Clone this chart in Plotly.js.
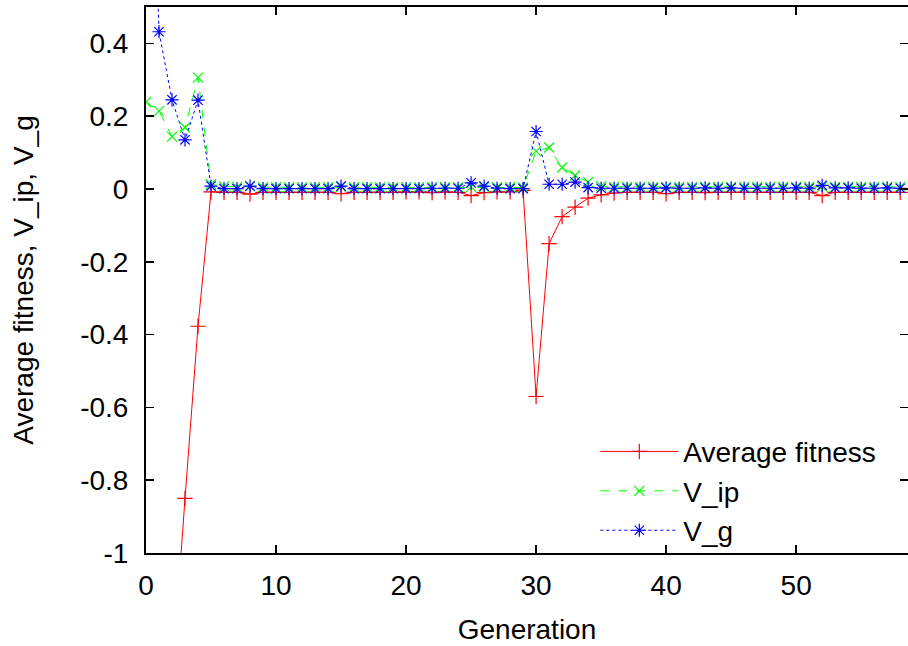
<!DOCTYPE html>
<html>
<head>
<meta charset="utf-8">
<script src="https://cdn.plot.ly/plotly-3.0.1.min.js"></script>
<style>html,body{margin:0;padding:0;background:#fff;}#chart{width:908px;height:646px;}</style>
</head>
<body>
<div id="chart"></div>
<script>
const generations = [0,1,2,3,4,5,6,7,8,9,10,11,12,13,14,15,16,17,18,19,20,21,22,23,24,25,26,27,28,29,30,31,32,33,34,35,36,37,38,39,40,41,42,43,44,45,46,47,48,49,50,51,52,53,54,55,56,57,58];

const avgFitness = [-2.8,-2.0,-1.35,-0.85,-0.377,-0.008,-0.009,-0.009,-0.014,-0.009,-0.009,-0.009,-0.009,-0.009,-0.009,-0.013,-0.009,-0.009,-0.009,-0.009,-0.008,-0.008,-0.01,-0.008,-0.009,-0.018,-0.01,-0.008,-0.008,-0.004,-0.57,-0.15,-0.076,-0.05,-0.025,-0.016,-0.011,-0.009,-0.009,-0.009,-0.013,-0.009,-0.009,-0.01,-0.009,-0.009,-0.009,-0.009,-0.009,-0.009,-0.009,-0.009,-0.018,-0.009,-0.009,-0.009,-0.009,-0.009,-0.009];

const vIp = [0.239,0.214,0.144,0.169,0.306,0.013,0.007,0.006,0.008,0.005,0.005,0.005,0.005,0.005,0.005,0.006,0.005,0.005,0.005,0.005,0.005,0.005,0.006,0.005,0.005,0.006,0.005,0.005,0.005,0.004,0.104,0.114,0.059,0.037,0.019,0.008,0.006,0.006,0.006,0.006,0.006,0.006,0.006,0.006,0.006,0.006,0.006,0.006,0.006,0.006,0.006,0.006,0.006,0.006,0.006,0.006,0.006,0.006,0.006];

const vG = [1.5,0.432,0.245,0.135,0.244,0.008,0.001,0.001,0.008,0.001,0.001,0.001,0.001,0.001,0.001,0.008,0.001,0.001,0.001,0.001,0.001,0.001,0.002,0.002,0.002,0.017,0.008,0.002,0.001,0.001,0.158,0.013,0.013,0.019,0.004,0.002,0.002,0.002,0.002,0.002,0.003,0.002,0.002,0.003,0.002,0.003,0.002,0.002,0.002,0.002,0.003,0.002,0.01,0.003,0.003,0.002,0.002,0.003,0.002];

const seriesNames = ["Average fitness", "V_ip", "V_g"];
const xTickVals = [0,10,20,30,40,50];
const xTickText = ["0","10","20","30","40","50"];
const yTickVals = [-1,-0.8,-0.6,-0.4,-0.2,0,0.2,0.4];
const yTickText = ["-1","-0.8","-0.6","-0.4","-0.2","0","0.2","0.4"];

const FONT = "Liberation Sans, Arial, Helvetica, sans-serif";

const traces = [
  {
    x: generations, y: avgFitness, name: seriesNames[0], type: "scatter", mode: "lines+markers",
    line: {color: "#ff0000", width: 1, dash: "solid"},
    marker: {symbol: "cross-thin-open", size: 11, color: "#ff0000", line: {color: "#ff0000", width: 1.2}},
    cliponaxis: true
  },
  {
    x: generations, y: vIp, name: seriesNames[1], type: "scatter", mode: "lines+markers",
    line: {color: "#00ff00", width: 1, dash: "dash"},
    marker: {symbol: "x-thin-open", size: 10, color: "#00ff00", line: {color: "#00ff00", width: 1.2}},
    cliponaxis: true
  },
  {
    x: generations, y: vG, name: seriesNames[2], type: "scatter", mode: "lines+markers",
    line: {color: "#0000ff", width: 1, dash: "dot"},
    marker: {symbol: "asterisk-open", size: 11, color: "#0000ff", line: {color: "#0000ff", width: 1.2}},
    cliponaxis: true
  }
];

const layout = {
  width: 908, height: 646,
  margin: {l: 146, r: 0, t: 7, b: 93, pad: 0},
  paper_bgcolor: "#ffffff", plot_bgcolor: "#ffffff",
  font: {family: FONT, size: 28, color: "#000000"},
  showlegend: true,
  legend: {
    x: 0.965, xanchor: "right", y: -0.005, yanchor: "bottom",
    bgcolor: "rgba(0,0,0,0)", borderwidth: 0,
    font: {family: FONT, size: 28, color: "#000"},
    itemwidth: 78, tracegroupgap: 0
  },
  xaxis: {
    range: [0, 58.6], tickmode: "array", tickvals: xTickVals, ticktext: xTickText,
    ticks: "inside", ticklen: 8, tickwidth: 1.5, tickcolor: "#000",
    showline: true, linecolor: "#000", linewidth: 2, mirror: "ticks",
    showgrid: false, zeroline: false,
    tickfont: {family: FONT, size: 28},
    ticklabelstandoff: 6,
    title: {text: "Generation", font: {family: FONT, size: 28}, standoff: 20}
  },
  yaxis: {
    range: [-1, 0.5], tickmode: "array", tickvals: yTickVals, ticktext: yTickText,
    ticks: "inside", ticklen: 8, tickwidth: 1.5, tickcolor: "#000",
    showline: true, linecolor: "#000", linewidth: 2, mirror: "ticks",
    showgrid: false, zeroline: false,
    tickfont: {family: FONT, size: 28},
    ticklabelstandoff: 10,
    title: {text: "Average fitness, V_ip, V_g", font: {family: FONT, size: 28}, standoff: 38}
  }
};

Plotly.newPlot("chart", traces, layout, {displayModeBar: false, staticPlot: true});
</script>
</body>
</html>
